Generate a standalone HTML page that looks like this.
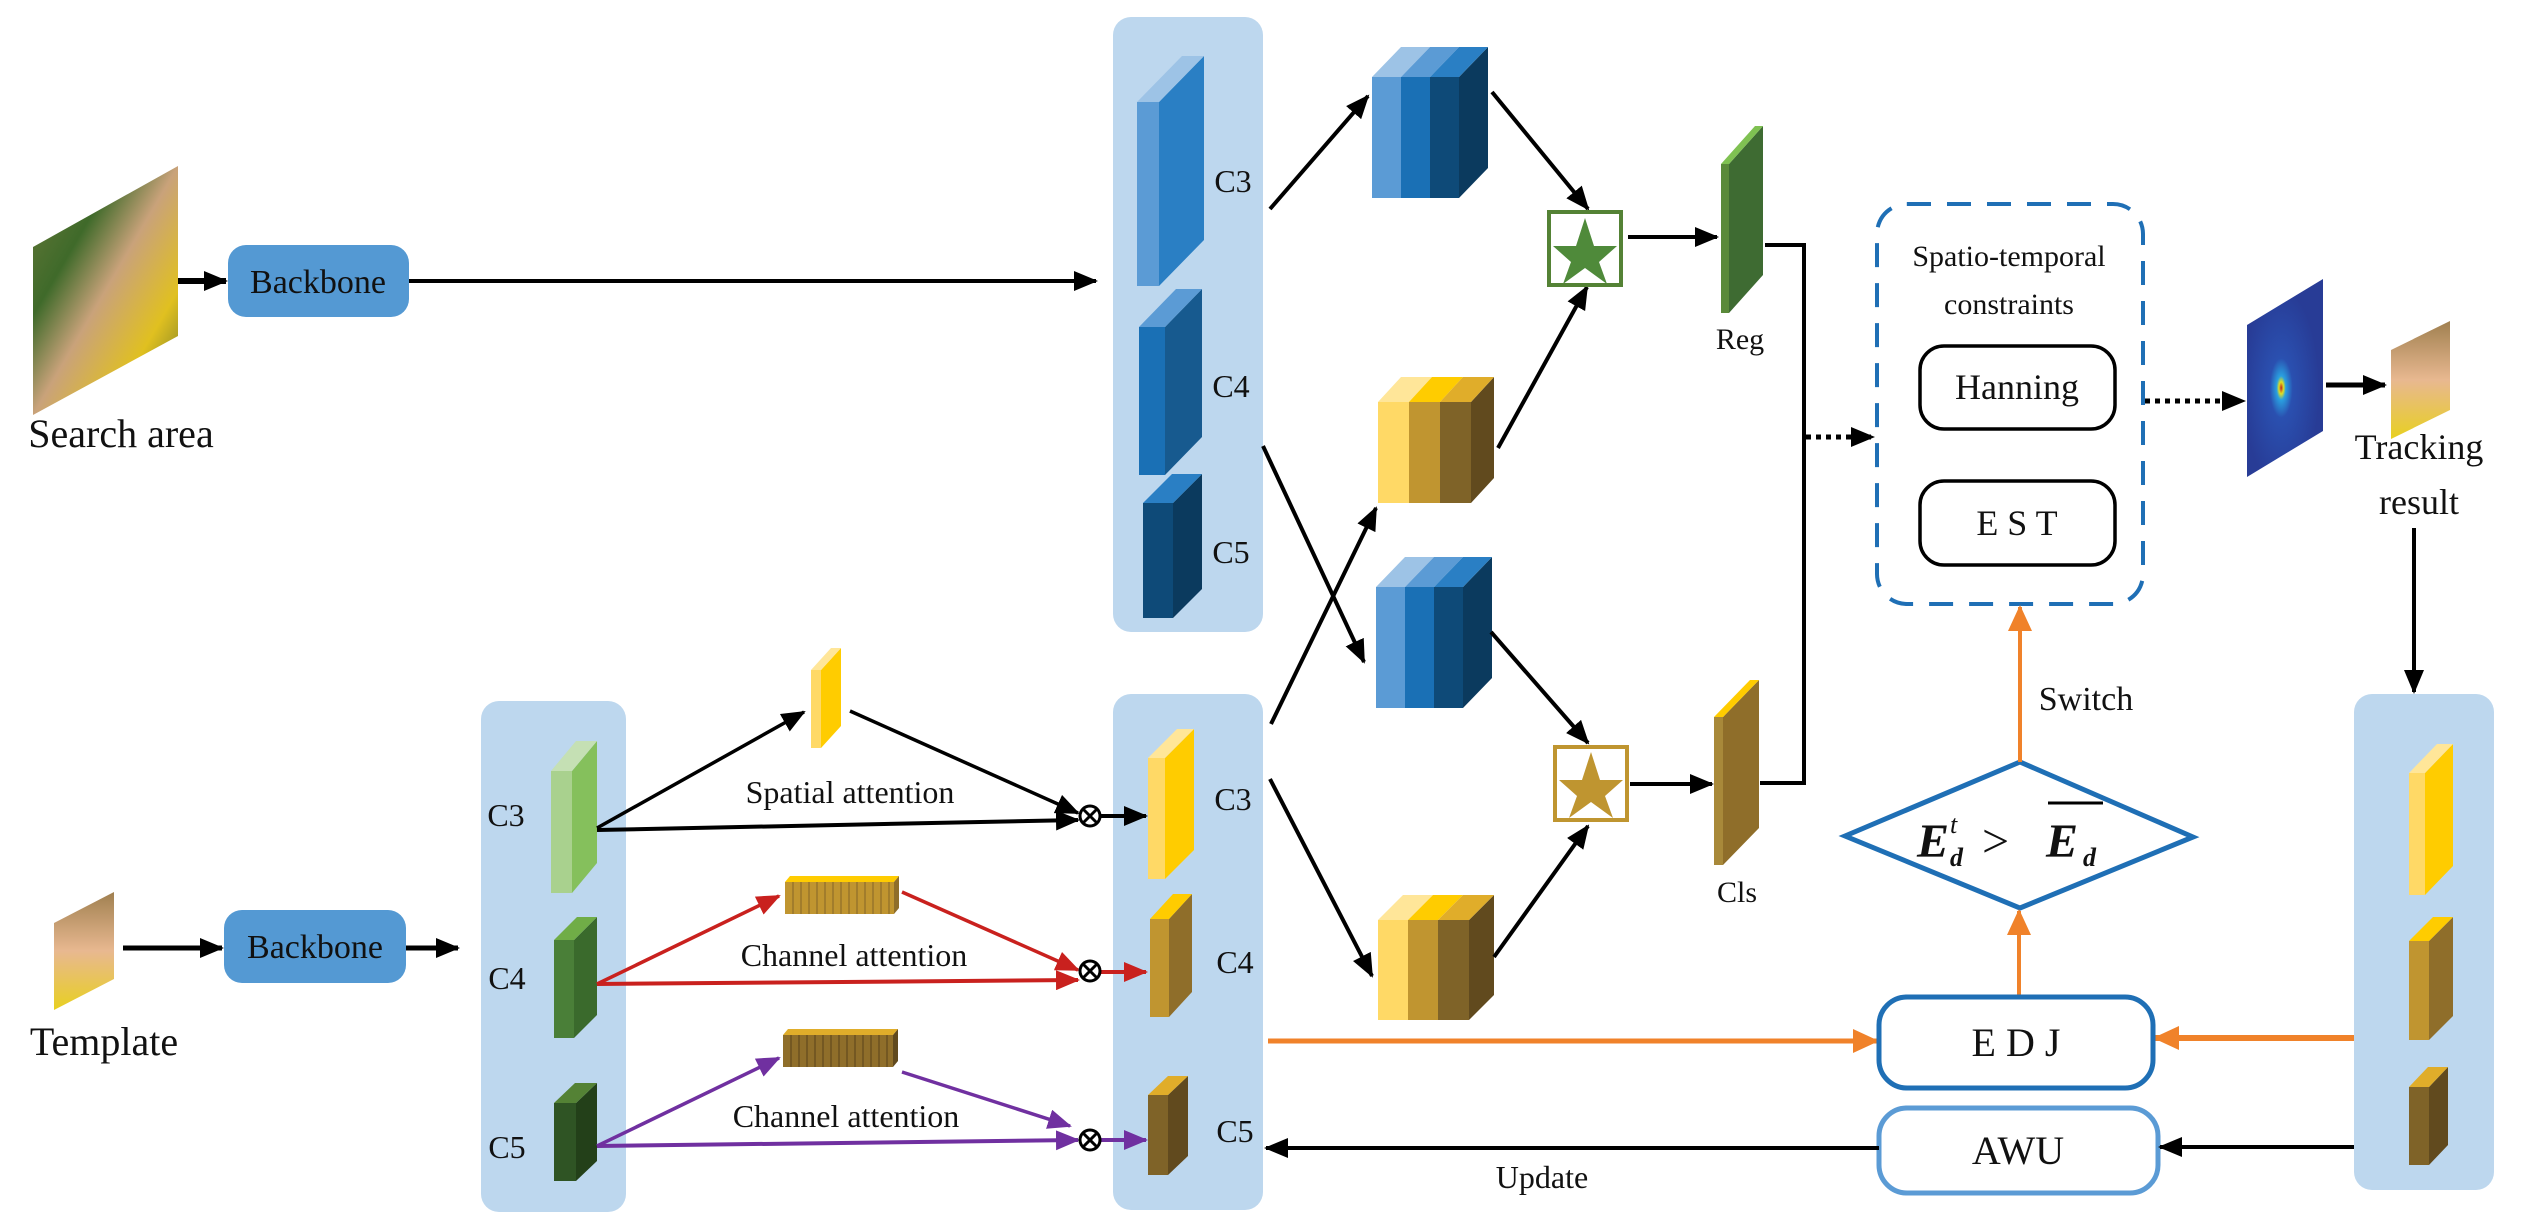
<!DOCTYPE html>
<html><head><meta charset="utf-8"><style>
html,body{margin:0;padding:0;background:#fff;}
svg{display:block;}
text{font-family:"Liberation Serif",serif;fill:#111;}
</style></head><body>
<svg width="2523" height="1228" viewBox="0 0 2523 1228" xmlns="http://www.w3.org/2000/svg">
<defs>
<marker id="a" markerWidth="24" markerHeight="20" refX="22" refY="10" orient="auto" markerUnits="userSpaceOnUse"><path d="M0,0 L24,10 L0,20 z" fill="#000"/></marker>
<marker id="ar" markerWidth="24" markerHeight="20" refX="22" refY="10" orient="auto" markerUnits="userSpaceOnUse"><path d="M0,0 L24,10 L0,20 z" fill="#c9211e"/></marker>
<marker id="ap" markerWidth="24" markerHeight="20" refX="22" refY="10" orient="auto" markerUnits="userSpaceOnUse"><path d="M0,0 L24,10 L0,20 z" fill="#7030a0"/></marker>
<marker id="ao" markerWidth="26" markerHeight="24" refX="24" refY="12" orient="auto" markerUnits="userSpaceOnUse"><path d="M0,0 L26,12 L0,24 z" fill="#f0822a"/></marker>
<linearGradient id="img1" x1="0" y1="0" x2="1" y2="1"><stop offset="0" stop-color="#6b7a3a"/><stop offset="0.3" stop-color="#3f6a2a"/><stop offset="0.5" stop-color="#c9a27a"/><stop offset="0.75" stop-color="#e0c020"/><stop offset="1" stop-color="#5a6a2a"/></linearGradient>
<linearGradient id="img2" x1="0" y1="0" x2="0" y2="1"><stop offset="0" stop-color="#a08050"/><stop offset="0.5" stop-color="#e8b890"/><stop offset="1" stop-color="#e8d020"/></linearGradient>
<radialGradient id="heat" cx="0.45" cy="0.55" r="0.5"><stop offset="0" stop-color="#c02020"/><stop offset="0.06" stop-color="#e0e020"/><stop offset="0.12" stop-color="#2aa0e0"/><stop offset="0.3" stop-color="#2a50b0"/><stop offset="1" stop-color="#283c96"/></radialGradient>
</defs>

<!-- panels -->
<rect x="1113" y="17" width="150" height="615" rx="18" fill="#bdd7ee"/>
<rect x="481" y="701" width="145" height="511" rx="18" fill="#bdd7ee"/>
<rect x="1113" y="694" width="150" height="516" rx="18" fill="#bdd7ee"/>
<rect x="2354" y="694" width="140" height="496" rx="18" fill="#bdd7ee"/>

<!-- search image -->
<polygon points="33,247 178,166 178,336 33,415" fill="url(#img1)"/>
<text x="121" y="447" font-size="40" text-anchor="middle">Search area</text>
<line x1="178" y1="281" x2="226" y2="281" stroke="#000" stroke-width="6" marker-end="url(#a)"/>
<rect x="228" y="245" width="181" height="72" rx="18" fill="#5499d3"/>
<text x="318" y="293" font-size="34" text-anchor="middle">Backbone</text>
<line x1="409" y1="281" x2="1096" y2="281" stroke="#000" stroke-width="4" marker-end="url(#a)"/>

<!-- template -->
<polygon points="54,923 114,892 114,979 54,1010" fill="url(#img2)"/>
<text x="104" y="1055" font-size="40" text-anchor="middle">Template</text>
<line x1="123" y1="948" x2="222" y2="948" stroke="#000" stroke-width="5" marker-end="url(#a)"/>
<rect x="224" y="910" width="182" height="73" rx="18" fill="#5499d3"/>
<text x="315" y="958" font-size="34" text-anchor="middle">Backbone</text>
<line x1="406" y1="948" x2="458" y2="948" stroke="#000" stroke-width="5" marker-end="url(#a)"/>

<!-- top panel blocks -->
<g>
<rect x="1137" y="102" width="22" height="184" fill="#5b9bd5"/>
<polygon points="1159,102 1204,56 1204,240 1159,286" fill="#2a7fc4"/>
<polygon points="1137,102 1182,56 1204,56 1159,102" fill="#9dc3e6"/>
<rect x="1139" y="327" width="26" height="148" fill="#1a70b5"/>
<polygon points="1165,327 1202,289 1202,437 1165,475" fill="#175a8f"/>
<polygon points="1139,327 1176,289 1202,289 1165,327" fill="#5b9bd5"/>
<rect x="1143" y="503" width="30" height="115" fill="#0e4a78"/>
<polygon points="1173,503 1202,474 1202,589 1173,618" fill="#0b3a5e"/>
<polygon points="1143,503 1172,474 1202,474 1173,503" fill="#2a7fc4"/>
</g>
<text x="1233" y="192" font-size="32" text-anchor="middle">C3</text>
<text x="1231" y="397" font-size="32" text-anchor="middle">C4</text>
<text x="1231" y="563" font-size="32" text-anchor="middle">C5</text>

<!-- blue stack 1 -->
<g>
<rect x="1372" y="77" width="29" height="121" fill="#5b9bd5"/>
<rect x="1401" y="77" width="29" height="121" fill="#1a70b5"/>
<rect x="1430" y="77" width="29" height="121" fill="#0e4a78"/>
<polygon points="1459,77 1488,47 1488,168 1459,198" fill="#0b3a5e"/>
<polygon points="1372,77 1401,47 1430,47 1401,77" fill="#9dc3e6"/>
<polygon points="1401,77 1430,47 1459,47 1430,77" fill="#5b9bd5"/>
<polygon points="1430,77 1459,47 1488,47 1459,77" fill="#2a7fc4"/>
</g>
<!-- blue stack 2 -->
<g>
<rect x="1376" y="587" width="29" height="121" fill="#5b9bd5"/>
<rect x="1405" y="587" width="29" height="121" fill="#1a70b5"/>
<rect x="1434" y="587" width="29" height="121" fill="#0e4a78"/>
<polygon points="1463,587 1492,557 1492,678 1463,708" fill="#0b3a5e"/>
<polygon points="1376,587 1405,557 1434,557 1405,587" fill="#9dc3e6"/>
<polygon points="1405,587 1434,557 1463,557 1434,587" fill="#5b9bd5"/>
<polygon points="1434,587 1463,557 1492,557 1463,587" fill="#2a7fc4"/>
</g>
<!-- yellow stack 1 -->
<g>
<rect x="1378" y="402" width="31" height="101" fill="#ffd966"/>
<rect x="1409" y="402" width="31" height="101" fill="#c09530"/>
<rect x="1440" y="402" width="31" height="101" fill="#7f6328"/>
<polygon points="1471,402 1494,377 1494,478 1471,503" fill="#614a1e"/>
<polygon points="1378,402 1401,377 1432,377 1409,402" fill="#ffe699"/>
<polygon points="1409,402 1432,377 1463,377 1440,402" fill="#ffcc00"/>
<polygon points="1440,402 1463,377 1494,377 1471,402" fill="#e0ad2a"/>
</g>
<!-- yellow stack 2 -->
<g>
<rect x="1378" y="920" width="30" height="100" fill="#ffd966"/>
<rect x="1408" y="920" width="30" height="100" fill="#c09530"/>
<rect x="1438" y="920" width="31" height="100" fill="#7f6328"/>
<polygon points="1469,920 1494,895 1494,995 1469,1020" fill="#614a1e"/>
<polygon points="1378,920 1403,895 1433,895 1408,920" fill="#ffe699"/>
<polygon points="1408,920 1433,895 1463,895 1438,920" fill="#ffcc00"/>
<polygon points="1438,920 1463,895 1494,895 1469,920" fill="#e0ad2a"/>
</g>

<!-- top connectors -->
<line x1="1270" y1="209" x2="1368" y2="96" stroke="#000" stroke-width="4" marker-end="url(#a)"/>
<line x1="1492" y1="92" x2="1588" y2="209" stroke="#000" stroke-width="4" marker-end="url(#a)"/>
<line x1="1498" y1="448" x2="1587" y2="287" stroke="#000" stroke-width="4" marker-end="url(#a)"/>
<line x1="1263" y1="446" x2="1364" y2="662" stroke="#000" stroke-width="4" marker-end="url(#a)"/>
<line x1="1271" y1="724" x2="1376" y2="508" stroke="#000" stroke-width="4" marker-end="url(#a)"/>
<line x1="1491" y1="632" x2="1588" y2="743" stroke="#000" stroke-width="4" marker-end="url(#a)"/>
<line x1="1494" y1="957" x2="1588" y2="826" stroke="#000" stroke-width="4" marker-end="url(#a)"/>
<line x1="1270" y1="779" x2="1372" y2="976" stroke="#000" stroke-width="4" marker-end="url(#a)"/>

<!-- star boxes -->
<rect x="1549" y="212" width="72" height="73" fill="#fff" stroke="#548235" stroke-width="4"/>
<polygon points="1585,218 1594,246 1617,246 1599,262 1607,284 1585,268 1563,284 1571,262 1553,246 1576,246" fill="#4f8a3a"/>
<rect x="1555" y="747" width="72" height="73" fill="#fff" stroke="#bf9530" stroke-width="4"/>
<polygon points="1591,752 1600,780 1623,780 1605,796 1613,818 1591,802 1569,818 1577,796 1559,780 1582,780" fill="#bf9530"/>
<line x1="1628" y1="237" x2="1717" y2="237" stroke="#000" stroke-width="4" marker-end="url(#a)"/>
<line x1="1630" y1="784" x2="1712" y2="784" stroke="#000" stroke-width="4" marker-end="url(#a)"/>

<!-- Reg / Cls planes -->
<rect x="1721" y="164" width="8" height="149" fill="#5a8a3a"/>
<polygon points="1729,164 1763,126 1763,275 1729,313" fill="#3e6b32"/>
<polygon points="1721,164 1755,126 1763,126 1729,164" fill="#7fc152"/>
<text x="1740" y="349" font-size="30" text-anchor="middle">Reg</text>
<rect x="1714" y="717" width="9" height="148" fill="#a8893a"/>
<polygon points="1723,717 1759,680 1759,828 1723,865" fill="#8f6e2a"/>
<polygon points="1714,717 1750,680 1759,680 1723,717" fill="#ffcc00"/>
<text x="1737" y="902" font-size="30" text-anchor="middle">Cls</text>
<polyline points="1765,245 1804,245 1804,783 1760,783" fill="none" stroke="#000" stroke-width="4"/>
<line x1="1806" y1="437" x2="1873" y2="437" stroke="#000" stroke-width="5" stroke-dasharray="5,5" marker-end="url(#a)"/>

<!-- dashed box -->
<rect x="1877" y="204" width="266" height="400" rx="30" fill="none" stroke="#1f6fb5" stroke-width="4" stroke-dasharray="24,16"/>
<text x="2009" y="266" font-size="30" text-anchor="middle">Spatio-temporal</text>
<text x="2009" y="314" font-size="30" text-anchor="middle">constraints</text>
<rect x="1920" y="346" width="195" height="83" rx="24" fill="#fff" stroke="#000" stroke-width="3.5"/>
<text x="2017" y="399" font-size="36" text-anchor="middle">Hanning</text>
<rect x="1920" y="481" width="195" height="84" rx="24" fill="#fff" stroke="#000" stroke-width="3.5"/>
<text x="2017" y="535" font-size="36" text-anchor="middle">E S T</text>
<line x1="2145" y1="401" x2="2244" y2="401" stroke="#000" stroke-width="5" stroke-dasharray="5,5" marker-end="url(#a)"/>

<!-- heatmap -->
<polygon points="2247,325 2323,279 2323,431 2247,477" fill="url(#heat)"/>
<line x1="2326" y1="385" x2="2385" y2="385" stroke="#000" stroke-width="5" marker-end="url(#a)"/>
<polygon points="2391,350 2450,321 2450,410 2391,439" fill="url(#img2)"/>
<text x="2419" y="459" font-size="36" text-anchor="middle">Tracking</text>
<text x="2419" y="514" font-size="36" text-anchor="middle">result</text>
<line x1="2414" y1="528" x2="2414" y2="692" stroke="#000" stroke-width="4" marker-end="url(#a)"/>

<!-- diamond -->
<polygon points="1845,836 2020,762 2193,837 2020,908" fill="#fff" stroke="#1f6fb5" stroke-width="5"/>
<text x="1917" y="857" font-size="48" font-style="italic" font-weight="bold">E</text>
<text x="1950" y="833" font-size="26" font-style="italic">t</text>
<text x="1950" y="866" font-size="26" font-style="italic" font-weight="bold">d</text>
<text x="1982" y="857" font-size="48">&gt;</text>
<text x="2046" y="857" font-size="48" font-style="italic" font-weight="bold">E</text>
<line x1="2048" y1="803" x2="2103" y2="803" stroke="#000" stroke-width="3"/>
<text x="2083" y="866" font-size="26" font-style="italic" font-weight="bold">d</text>

<!-- orange -->
<line x1="2020" y1="762" x2="2020" y2="607" stroke="#f0822a" stroke-width="4" marker-end="url(#ao)"/>
<text x="2086" y="710" font-size="34" text-anchor="middle">Switch</text>
<line x1="2019" y1="997" x2="2019" y2="911" stroke="#f0822a" stroke-width="4" marker-end="url(#ao)"/>
<line x1="1268" y1="1041" x2="1877" y2="1041" stroke="#f0822a" stroke-width="5" marker-end="url(#ao)"/>
<line x1="2354" y1="1038" x2="2155" y2="1038" stroke="#f0822a" stroke-width="6" marker-end="url(#ao)"/>

<!-- EDJ / AWU -->
<rect x="1879" y="997" width="274" height="91" rx="28" fill="#fff" stroke="#1f6fb5" stroke-width="5"/>
<text x="2016" y="1056" font-size="40" text-anchor="middle">E D J</text>
<rect x="1879" y="1108" width="279" height="85" rx="28" fill="#fff" stroke="#5b9bd5" stroke-width="5"/>
<text x="2018" y="1164" font-size="40" text-anchor="middle">AWU</text>
<line x1="2354" y1="1147" x2="2160" y2="1147" stroke="#000" stroke-width="4" marker-end="url(#a)"/>
<line x1="1879" y1="1148" x2="1266" y2="1148" stroke="#000" stroke-width="4" marker-end="url(#a)"/>
<text x="1542" y="1188" font-size="32" text-anchor="middle">Update</text>

<!-- left panel blocks -->
<rect x="551" y="771" width="21" height="122" fill="#a9d18e"/>
<polygon points="572,771 597,741 597,863 572,893" fill="#85c05c"/>
<polygon points="551,771 576,741 597,741 572,771" fill="#c5e0b4"/>
<rect x="554" y="940" width="20" height="98" fill="#4a7f38"/>
<polygon points="574,940 597,917 597,1015 574,1038" fill="#3a6a2c"/>
<polygon points="554,940 577,917 597,917 574,940" fill="#70ad47"/>
<rect x="554" y="1103" width="22" height="78" fill="#2f5424"/>
<polygon points="576,1103 597,1083 597,1161 576,1181" fill="#234019"/>
<polygon points="554,1103 575,1083 597,1083 576,1103" fill="#548235"/>
<text x="506" y="826" font-size="32" text-anchor="middle">C3</text>
<text x="507" y="989" font-size="32" text-anchor="middle">C4</text>
<text x="507" y="1158" font-size="32" text-anchor="middle">C5</text>

<!-- mid panel blocks -->
<rect x="1148" y="758" width="17" height="121" fill="#ffd966"/>
<polygon points="1165,758 1194,729 1194,850 1165,879" fill="#ffcc00"/>
<polygon points="1148,758 1177,729 1194,729 1165,758" fill="#ffe699"/>
<rect x="1150" y="919" width="19" height="98" fill="#c09530"/>
<polygon points="1169,919 1192,894 1192,992 1169,1017" fill="#8f6e2a"/>
<polygon points="1150,919 1173,894 1192,894 1169,919" fill="#ffcc00"/>
<rect x="1148" y="1095" width="20" height="80" fill="#7f6328"/>
<polygon points="1168,1095 1188,1076 1188,1156 1168,1175" fill="#614a1e"/>
<polygon points="1148,1095 1168,1076 1188,1076 1168,1095" fill="#e0ad2a"/>
<text x="1233" y="810" font-size="32" text-anchor="middle">C3</text>
<text x="1235" y="973" font-size="32" text-anchor="middle">C4</text>
<text x="1235" y="1142" font-size="32" text-anchor="middle">C5</text>

<!-- right panel blocks -->
<rect x="2409" y="773" width="16" height="122" fill="#ffd966"/>
<polygon points="2425,773 2453,744 2453,866 2425,895" fill="#ffcc00"/>
<polygon points="2409,773 2437,744 2453,744 2425,773" fill="#ffe699"/>
<rect x="2409" y="941" width="20" height="99" fill="#c09530"/>
<polygon points="2429,941 2453,917 2453,1016 2429,1040" fill="#8f6e2a"/>
<polygon points="2409,941 2433,917 2453,917 2429,941" fill="#ffcc00"/>
<rect x="2409" y="1087" width="20" height="78" fill="#7f6328"/>
<polygon points="2429,1087 2448,1067 2448,1145 2429,1165" fill="#614a1e"/>
<polygon points="2409,1087 2428,1067 2448,1067 2429,1087" fill="#e0ad2a"/>

<!-- spatial attention -->
<rect x="811" y="670" width="10" height="78" fill="#ffd966"/>
<polygon points="821,670 841,648 841,726 821,748" fill="#ffcc00"/>
<polygon points="811,670 831,648 841,648 821,670" fill="#ffe699"/>
<line x1="597" y1="828" x2="804" y2="712" stroke="#000" stroke-width="3.5" marker-end="url(#a)"/>
<line x1="850" y1="711" x2="1078" y2="813" stroke="#000" stroke-width="3.5" marker-end="url(#a)"/>
<line x1="597" y1="830" x2="1078" y2="820" stroke="#000" stroke-width="4" marker-end="url(#a)"/>
<text x="850" y="803" font-size="32" text-anchor="middle">Spatial attention</text>

<!-- channel bar 1 -->
<g>
<polygon points="785,882 790,876 899,876 894,882" fill="#ffcc00"/>
<rect x="785" y="882" width="109" height="32" fill="#c09530"/>
<polygon points="894,882 899,876 899,908 894,914" fill="#8f6e2a"/>
<g stroke="#8f6e2a" stroke-width="1.2">
<line x1="793" y1="882" x2="793" y2="914"/><line x1="801" y1="882" x2="801" y2="914"/><line x1="809" y1="882" x2="809" y2="914"/><line x1="817" y1="882" x2="817" y2="914"/><line x1="825" y1="882" x2="825" y2="914"/><line x1="833" y1="882" x2="833" y2="914"/><line x1="841" y1="882" x2="841" y2="914"/><line x1="849" y1="882" x2="849" y2="914"/><line x1="857" y1="882" x2="857" y2="914"/><line x1="865" y1="882" x2="865" y2="914"/><line x1="873" y1="882" x2="873" y2="914"/><line x1="881" y1="882" x2="881" y2="914"/><line x1="889" y1="882" x2="889" y2="914"/>
</g>
</g>
<line x1="597" y1="984" x2="779" y2="896" stroke="#c9211e" stroke-width="3.5" marker-end="url(#ar)"/>
<line x1="902" y1="892" x2="1078" y2="970" stroke="#c9211e" stroke-width="3.5" marker-end="url(#ar)"/>
<line x1="597" y1="984" x2="1078" y2="980" stroke="#c9211e" stroke-width="4" marker-end="url(#ar)"/>
<text x="854" y="966" font-size="32" text-anchor="middle">Channel attention</text>
<line x1="1100" y1="972" x2="1146" y2="972" stroke="#c9211e" stroke-width="4" marker-end="url(#ar)"/>

<!-- channel bar 2 -->
<g>
<polygon points="783,1035 788,1029 898,1029 893,1035" fill="#e0ad2a"/>
<rect x="783" y="1035" width="110" height="32" fill="#8f6e2a"/>
<polygon points="893,1035 898,1029 898,1061 893,1067" fill="#614a1e"/>
<g stroke="#614a1e" stroke-width="1.2">
<line x1="791" y1="1035" x2="791" y2="1067"/><line x1="799" y1="1035" x2="799" y2="1067"/><line x1="807" y1="1035" x2="807" y2="1067"/><line x1="815" y1="1035" x2="815" y2="1067"/><line x1="823" y1="1035" x2="823" y2="1067"/><line x1="831" y1="1035" x2="831" y2="1067"/><line x1="839" y1="1035" x2="839" y2="1067"/><line x1="847" y1="1035" x2="847" y2="1067"/><line x1="855" y1="1035" x2="855" y2="1067"/><line x1="863" y1="1035" x2="863" y2="1067"/><line x1="871" y1="1035" x2="871" y2="1067"/><line x1="879" y1="1035" x2="879" y2="1067"/><line x1="887" y1="1035" x2="887" y2="1067"/>
</g>
</g>
<line x1="597" y1="1146" x2="779" y2="1058" stroke="#7030a0" stroke-width="3.5" marker-end="url(#ap)"/>
<line x1="902" y1="1072" x2="1070" y2="1126" stroke="#7030a0" stroke-width="3.5" marker-end="url(#ap)"/>
<line x1="597" y1="1146" x2="1078" y2="1140" stroke="#7030a0" stroke-width="4" marker-end="url(#ap)"/>
<text x="846" y="1127" font-size="32" text-anchor="middle">Channel attention</text>
<line x1="1100" y1="1140" x2="1146" y2="1140" stroke="#7030a0" stroke-width="4" marker-end="url(#ap)"/>

<line x1="1100" y1="816" x2="1146" y2="816" stroke="#000" stroke-width="4" marker-end="url(#a)"/>

<!-- otimes -->
<g fill="#fff" stroke="#000" stroke-width="3">
<circle cx="1090" cy="816" r="10"/><line x1="1083" y1="809" x2="1097" y2="823"/><line x1="1097" y1="809" x2="1083" y2="823"/>
<circle cx="1090" cy="971" r="10"/><line x1="1083" y1="964" x2="1097" y2="978"/><line x1="1097" y1="964" x2="1083" y2="978"/>
<circle cx="1090" cy="1140" r="10"/><line x1="1083" y1="1133" x2="1097" y2="1147"/><line x1="1097" y1="1133" x2="1083" y2="1147"/>
</g>
</svg>
</body></html>
